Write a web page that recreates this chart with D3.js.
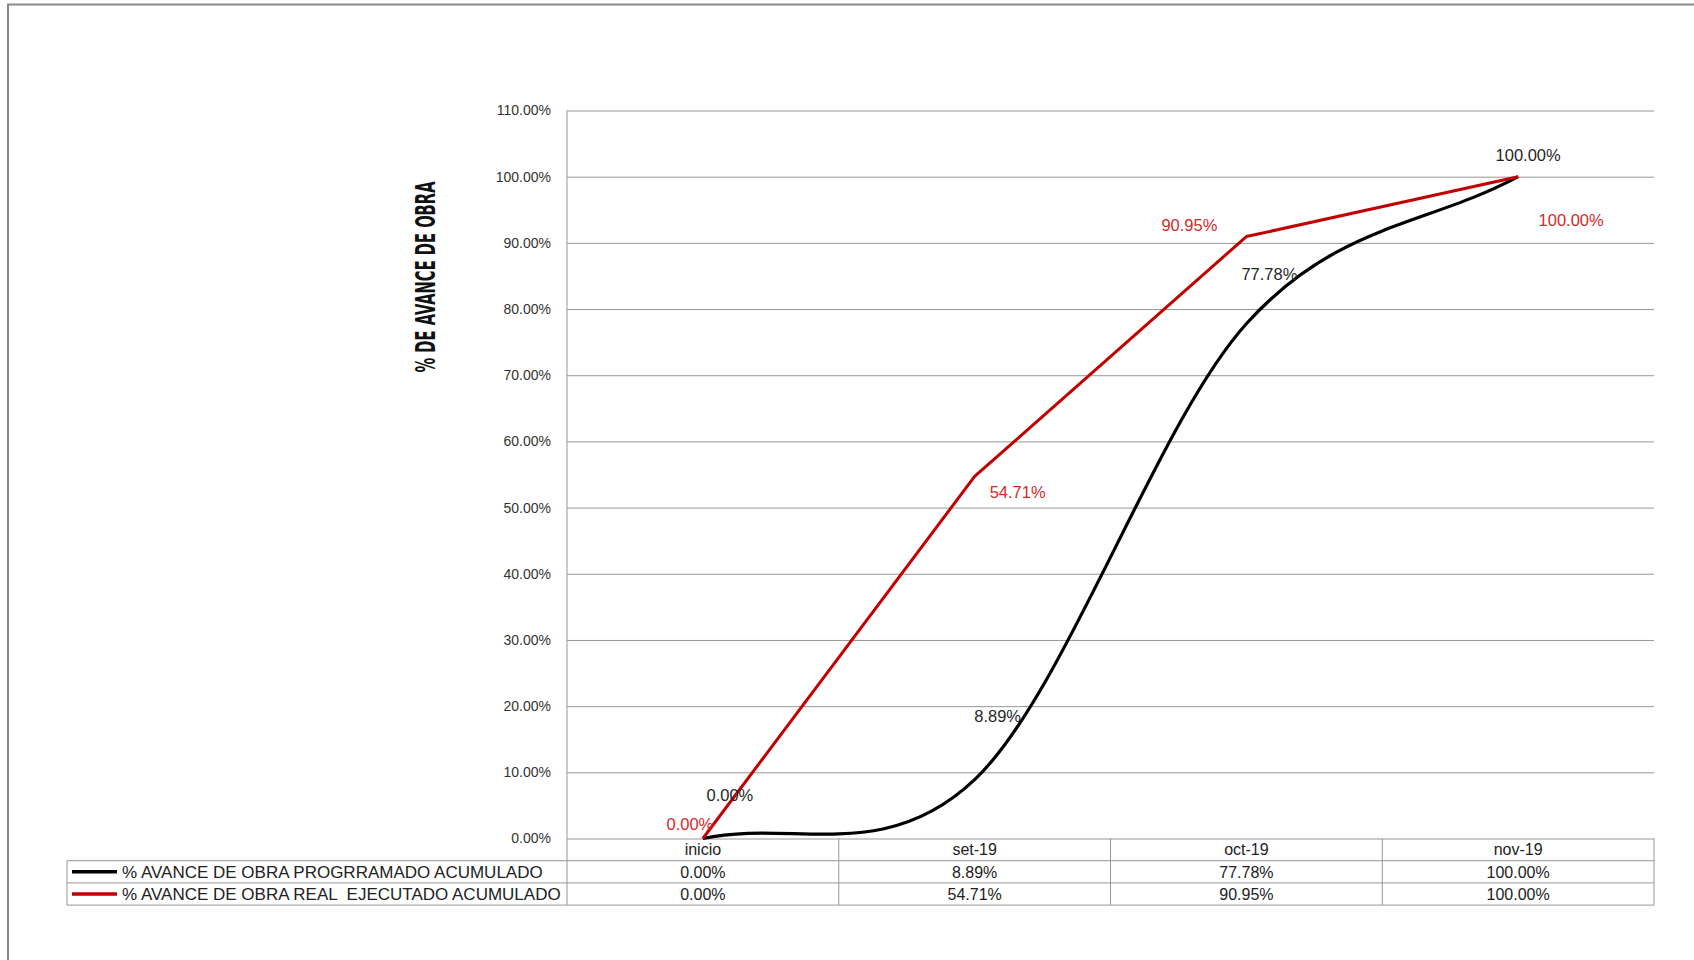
<!DOCTYPE html>
<html>
<head>
<meta charset="utf-8">
<script src="https://cdn.jsdelivr.net/npm/d3@7"></script>
<style>
  html, body { margin: 0; padding: 0; background: #fff; }
  svg { display: block; }
  text { font-family: "Liberation Sans", Arial, sans-serif; }
</style>
</head>
<body>
<svg width="1694" height="960"></svg>
<script>
// chart values
var categories = ["inicio", "set-19", "oct-19", "nov-19"];
var programado = [0, 8.89, 77.78, 100];
var real = [0, 54.71, 90.95, 100];
var yTicks = [0, 10, 20, 30, 40, 50, 60, 70, 80, 90, 100, 110];
var seriesNames = ["% AVANCE DE OBRA PROGRRAMADO ACUMULADO",
                   "% AVANCE DE OBRA REAL  EJECUTADO ACUMULADO"];
var yTitle = "% DE AVANCE DE OBRA";

// hand placed label offsets (px from the point), as in the original sheet
var progOffsets = [[27, -43], [23, -63], [23, -50], [10, -21]];
var realOffsets = [[-13, -14], [43, 16], [-57, -11], [53, 44]];

var svg = d3.select("svg"),
    margin = {top: 110.5, right: 40, bottom: 121.5, left: 567},
    width = 1654 - margin.left,
    height = 838.5 - margin.top,
    rowH = 22.2,
    gray = "#979797";

var fmt = function(v) { return d3.format(".2f")(v) + "%"; };

// frame of the chart area (runs off the right and bottom edge)
svg.append("path")
  .attr("d", "M8,965V4.5H1700")
  .attr("fill", "none")
  .attr("stroke", "#8a8a8a")
  .attr("stroke-width", 2);

var g = svg.append("g")
  .attr("transform", "translate(" + margin.left + "," + margin.top + ")");

var x = d3.scaleBand().domain(categories).range([0, width]);
var y = d3.scaleLinear().domain([0, 110]).range([height, 0]);

// Excel style smoothing: catmull-rom tangents, reflected end points
function excelSmooth(context) {
  var pts;
  return {
    areaStart: function() {}, areaEnd: function() {},
    lineStart: function() { pts = []; },
    point: function(px, py) { pts.push([+px, +py]); },
    lineEnd: function() {
      var n = pts.length;
      context.moveTo(pts[0][0], pts[0][1]);
      var get = function(i) {
        if (i < 0) return [2 * pts[0][0] - pts[1][0], 2 * pts[0][1] - pts[1][1]];
        if (i >= n) return [2 * pts[n - 1][0] - pts[n - 2][0], 2 * pts[n - 1][1] - pts[n - 2][1]];
        return pts[i];
      };
      for (var i = 0; i < n - 1; i++) {
        var a = get(i - 1), b = get(i), c = get(i + 1), d = get(i + 2);
        context.bezierCurveTo(b[0] + (c[0] - a[0]) / 6, b[1] + (c[1] - a[1]) / 6,
                              c[0] - (d[0] - b[0]) / 6, c[1] - (d[1] - b[1]) / 6,
                              c[0], c[1]);
      }
    }
  };
}

// gridlines
g.append("g")
  .call(d3.axisLeft(y).tickValues(yTicks).tickSize(-width).tickFormat(""))
  .call(function(s) { s.select(".domain").remove(); })
  .selectAll("line").attr("stroke", gray).attr("stroke-width", 1);

// y tick labels
g.append("g")
  .call(d3.axisLeft(y).tickValues(yTicks).tickSize(0).tickPadding(16).tickFormat(fmt))
  .call(function(s) { s.select(".domain").remove(); })
  .selectAll("text")
    .style("font-family", "'Liberation Sans', Arial, sans-serif")
    .style("font-size", "14px")
    .attr("fill", "#333");

// axis line, down through the table
g.append("line")
  .attr("x1", 0).attr("x2", 0)
  .attr("y1", 0).attr("y2", height + rowH * 3)
  .attr("stroke", gray);

// y title
svg.append("text")
  .attr("transform", "translate(435,277) rotate(-90)")
  .attr("text-anchor", "middle")
  .attr("textLength", 191)
  .attr("lengthAdjust", "spacingAndGlyphs")
  .style("font-family", "'Liberation Sans Narrow', 'DejaVu Sans Condensed', Arial, sans-serif")
  .style("font-weight", "bold")
  .style("font-size", "27px")
  .attr("fill", "#111")
  .text(yTitle);

// lines
var cx = function(d, i) { return x(categories[i]) + x.bandwidth() / 2; };
var realLine = d3.line().x(cx).y(function(d) { return y(d); });
var progLine = d3.line().x(cx).y(function(d) { return y(d); }).curve(excelSmooth);

g.append("path").datum(programado)
  .attr("d", progLine)
  .attr("fill", "none").attr("stroke", "#000").attr("stroke-width", 3.2)
  .attr("stroke-linejoin", "round");

g.append("path").datum(real)
  .attr("d", realLine)
  .attr("fill", "none").attr("stroke", "#c00000").attr("stroke-width", 3)
  .attr("stroke-linejoin", "round");

// data labels
function labels(values, offsets, color) {
  g.append("g").selectAll("text")
    .data(values)
    .join("text")
      .attr("x", function(d, i) { return cx(d, i) + offsets[i][0]; })
      .attr("y", function(d, i) { return y(d) + offsets[i][1]; })
      .attr("dy", "0.35em")
      .attr("text-anchor", "middle")
      .style("font-size", "16.5px")
      .attr("fill", color)
      .text(fmt);
}
labels(programado, progOffsets, "#262626");
labels(real, realOffsets, "#d42a2a");

// data table under the plot
var table = g.append("g").attr("transform", "translate(0," + height + ")");
var tableLeft = 67 - margin.left;

table.selectAll(".col-line")
  .data(categories.slice(1).concat([null]))
  .join("line")
    .attr("x1", function(d, i) { return x.bandwidth() * (i + 1); })
    .attr("x2", function(d, i) { return x.bandwidth() * (i + 1); })
    .attr("y1", 0).attr("y2", rowH * 3)
    .attr("stroke", gray);

[1, 2, 3].forEach(function(r) {
  table.append("line")
    .attr("x1", tableLeft).attr("x2", width)
    .attr("y1", rowH * r).attr("y2", rowH * r)
    .attr("stroke", gray);
});
table.append("line")
  .attr("x1", tableLeft).attr("x2", tableLeft)
  .attr("y1", rowH).attr("y2", rowH * 3)
  .attr("stroke", gray);

table.selectAll(".cat")
  .data(categories)
  .join("text")
    .attr("x", function(d) { return x(d) + x.bandwidth() / 2; })
    .attr("y", rowH / 2)
    .attr("dy", "0.36em")
    .attr("text-anchor", "middle")
    .style("font-size", "16px")
    .attr("fill", "#222")
    .text(function(d) { return d; });

[programado, real].forEach(function(vals, r) {
  var rowY = rowH * (r + 1.5);
  table.append("g").selectAll("text")
    .data(vals)
    .join("text")
      .attr("x", function(d, i) { return cx(d, i); })
      .attr("y", rowY)
      .attr("dy", "0.36em")
      .attr("text-anchor", "middle")
      .style("font-size", "16px")
      .attr("fill", "#222")
      .text(fmt);

  table.append("line")
    .attr("x1", tableLeft + 5).attr("x2", tableLeft + 50)
    .attr("y1", rowY).attr("y2", rowY)
    .attr("stroke", r === 0 ? "#000" : "#c00000")
    .attr("stroke-width", 3.5);

  table.append("text")
    .attr("x", tableLeft + 55)
    .attr("y", rowY)
    .attr("dy", "0.36em")
    .style("font-size", "17px")
    .style("white-space", "pre")
    .attr("fill", "#222")
    .text(seriesNames[r]);
});
</script>
</body>
</html>
